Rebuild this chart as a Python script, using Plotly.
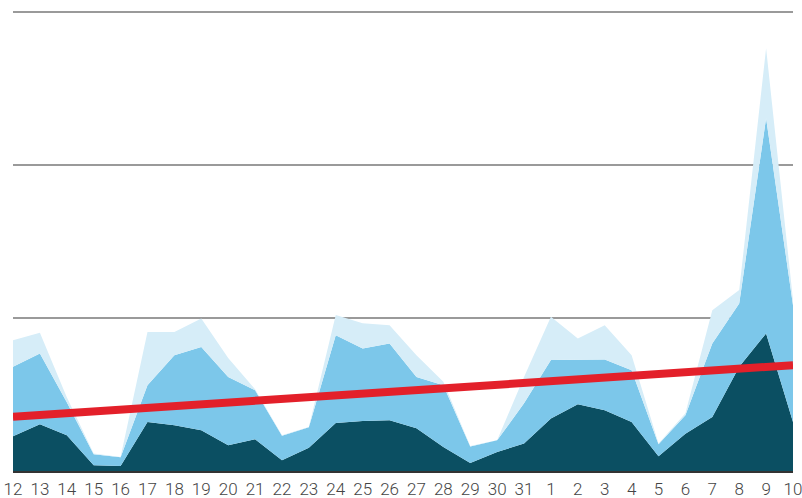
import plotly.graph_objects as go

day_labels = ["12", "13", "14", "15", "16", "17", "18", "19", "20", "21",
              "22", "23", "24", "25", "26", "27", "28", "29", "30", "31",
              "1", "2", "3", "4", "5", "6", "7", "8", "9", "10"]

# bottom (dark) layer
dark_vals = [2.27, 3.05, 2.33, 0.37, 0.33, 3.20, 2.99, 2.66, 1.68, 2.07,
             0.70, 1.52, 3.14, 3.27, 3.31, 2.79, 1.57, 0.52, 1.24, 1.79,
             3.42, 4.36, 3.97, 3.20, 0.96, 2.44, 3.53, 6.80, 8.98, 3.20]
# middle (medium blue) layer, stacked on dark
medium_vals = [4.53, 4.62, 2.16, 0.73, 0.57, 2.40, 4.57, 5.44, 4.46, 3.20,
               1.60, 1.33, 5.73, 4.73, 5.02, 3.35, 4.03, 1.08, 0.76, 2.63,
               3.82, 2.88, 3.31, 3.38, 0.79, 1.20, 4.80, 4.14, 14.05, 7.63]
# top (light blue) layer, stacked on medium
light_vals = [1.74, 1.35, 0.33, 0.04, 0.02, 3.48, 1.52, 1.86, 1.23, 0.07,
              0.03, 0.03, 1.31, 1.65, 1.19, 1.42, 0.22, 0.03, 0.01, 1.72,
              2.83, 1.41, 2.24, 0.98, 0.04, 0.13, 2.17, 0.87, 4.58, 0.33]
# trend line end values (first and last day)
trend_vals = [3.54, 6.91]

x_idx = list(range(len(day_labels)))

fig = go.Figure()
layers = [
    (dark_vals, "#0b4f62"),
    (medium_vals, "#7cc7ea"),
    (light_vals, "#d6edf8"),
]
for vals, col in layers:
    fig.add_trace(go.Scatter(
        x=x_idx, y=vals, mode="lines", stackgroup="one",
        line=dict(width=0, color=col), fillcolor=col,
        hoverinfo="skip", showlegend=False,
    ))

fig.add_trace(go.Scatter(
    x=[x_idx[0], x_idx[-1]], y=trend_vals, mode="lines",
    line=dict(color="#e3202a", width=8), showlegend=False,
    hoverinfo="skip",
))

fig.update_layout(
    width=802, height=498,
    margin=dict(l=13, r=9, t=10, b=27),
    paper_bgcolor="white", plot_bgcolor="white",
    xaxis=dict(
        range=[0, 29], tickmode="array", tickvals=x_idx, ticktext=day_labels,
        showgrid=False, zeroline=False, showline=True, linecolor="#333333",
        linewidth=2, ticks="", automargin=False, ticklabeloverflow="allow",
        ticklabelstandoff=2,
        tickfont=dict(family="Roboto", size=17, color="#444444", weight=300),
    ),
    yaxis=dict(
        range=[0, 30.1], tick0=0, dtick=10, showticklabels=False,
        showgrid=True, gridcolor="#9a9a9a", gridwidth=1.5, zeroline=False,
        ticks="", automargin=False,
    ),
)

fig.write_html("out.html")
